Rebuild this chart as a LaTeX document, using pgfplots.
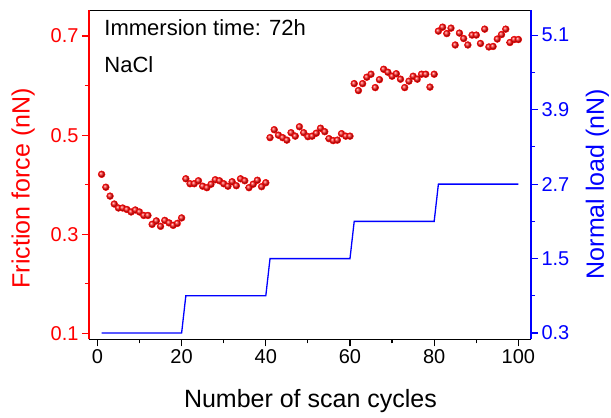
\documentclass[border=0pt]{standalone}
\usepackage{fontspec}
\setmainfont{Liberation Sans}
\usepackage{pgfplots}
\usepackage{pgfplotstable}
\pgfplotsset{compat=1.18}
\pgfplotstableread{
x y
1 0.421
2 0.395
3 0.377
4 0.361
5 0.353
6 0.353
7 0.350
8 0.345
9 0.349
10 0.345
11 0.338
12 0.338
13 0.320
14 0.327
15 0.316
16 0.328
17 0.323
18 0.318
19 0.322
20 0.333
21 0.412
22 0.402
23 0.402
24 0.408
25 0.397
26 0.394
27 0.401
28 0.410
29 0.408
30 0.402
31 0.397
32 0.406
33 0.398
34 0.412
35 0.408
36 0.394
37 0.401
38 0.409
39 0.396
40 0.404
41 0.495
42 0.511
43 0.500
44 0.495
45 0.490
46 0.505
47 0.498
48 0.517
49 0.505
50 0.497
51 0.498
52 0.504
53 0.514
54 0.507
55 0.493
56 0.489
57 0.490
58 0.503
59 0.498
60 0.498
61 0.604
62 0.590
63 0.604
64 0.617
65 0.623
66 0.596
67 0.612
68 0.633
69 0.627
70 0.619
71 0.624
72 0.613
73 0.596
74 0.609
75 0.619
76 0.613
77 0.623
78 0.623
79 0.597
80 0.623
81 0.710
82 0.718
83 0.705
84 0.716
85 0.682
86 0.706
87 0.695
88 0.682
89 0.702
90 0.702
91 0.685
92 0.714
93 0.678
94 0.679
95 0.694
96 0.703
97 0.714
98 0.687
99 0.693
100 0.693
}\friction
\pgfplotstableread{
x y
1 0.3
20 0.3
21 0.9
40 0.9
41 1.5
60 1.5
61 2.1
80 2.1
81 2.7
100 2.7
}\load
\begin{document}
\begin{tikzpicture}
\begin{axis}[
  at={(0,0)}, anchor=south west,
  scale only axis, width=442bp, height=329bp,
  xmin=-2, xmax=103, ymin=0.088, ymax=0.752,
  axis y line*=left,
  xtick={0,20,40,60,80,100}, xticklabels={0,20,40,60,80,100},
  minor xtick={10,30,50,70,90},
  xtick pos=bottom,
  ytick={0.1,0.3,0.5,0.7}, yticklabels={0.1,0.3,0.5,0.7},
  minor ytick={0.2,0.4,0.6},
  tick align=outside,
  major tick length=7bp, minor tick length=4bp,
  every tick/.style={line width=1.2bp},
  x axis line style={black, line width=1.5bp},
  y axis line style={red, line width=1.5bp},
  xtick style={black, line width=1.2bp},
  ytick style={red, line width=1.2bp},
  /pgf/number format/assume math mode=true,
  ticklabel style={font=\fontsize{20bp}{24bp}\selectfont},
  yticklabel style={red},
  xlabel={Number of scan cycles},
  ylabel={Friction force (nN)},
  label style={font=\fontsize{25bp}{30bp}\selectfont},
  xlabel style={at={(axis description cs:0.501,0)}, anchor=base, yshift=-68bp},
  ylabel style={at={(axis description cs:-0.149,0.459)}, anchor=center, rotate=0, red},
  clip=false,
]
\addplot[only marks, mark=ball, mark options={draw=red, line width=0.5bp, ball color=red!92!white}, mark size=3.4bp] table {\friction};
\node[anchor=base west, font=\fontsize{22bp}{26bp}\selectfont] at (axis description cs:0.027,0.924) {Immersion time: 72h};
\node[anchor=base west, font=\fontsize{22bp}{26bp}\selectfont] at (axis description cs:0.027,0.811) {NaCl};
\end{axis}
\begin{axis}[
  at={(0,0)}, anchor=south west,
  scale only axis, width=442bp, height=329bp,
  xmin=-2, xmax=103, ymin=0.2, ymax=5.5,
  axis y line*=right, axis x line=none,
  ytick={0.3,1.5,2.7,3.9,5.1}, yticklabels={0.3,1.5,2.7,3.9,5.1},
  minor ytick={0.9,2.1,3.3,4.5},
  tick align=outside,
  major tick length=7bp, minor tick length=4bp,
  y axis line style={blue, line width=1.5bp},
  ytick style={blue, line width=1.2bp},
  /pgf/number format/assume math mode=true,
  ticklabel style={font=\fontsize{20bp}{24bp}\selectfont},
  yticklabel style={blue},
  ylabel={Normal load (nN)},
  label style={font=\fontsize{25bp}{30bp}\selectfont},
  ylabel style={at={(axis description cs:1.150,0.472)}, anchor=center, rotate=0, blue},
]
\addplot[blue, line width=1.3bp] table {\load};
\end{axis}
\pgfresetboundingbox
\path (-89bp,-78.7bp) rectangle (522bp,339.3bp);
\end{tikzpicture}
\end{document}
